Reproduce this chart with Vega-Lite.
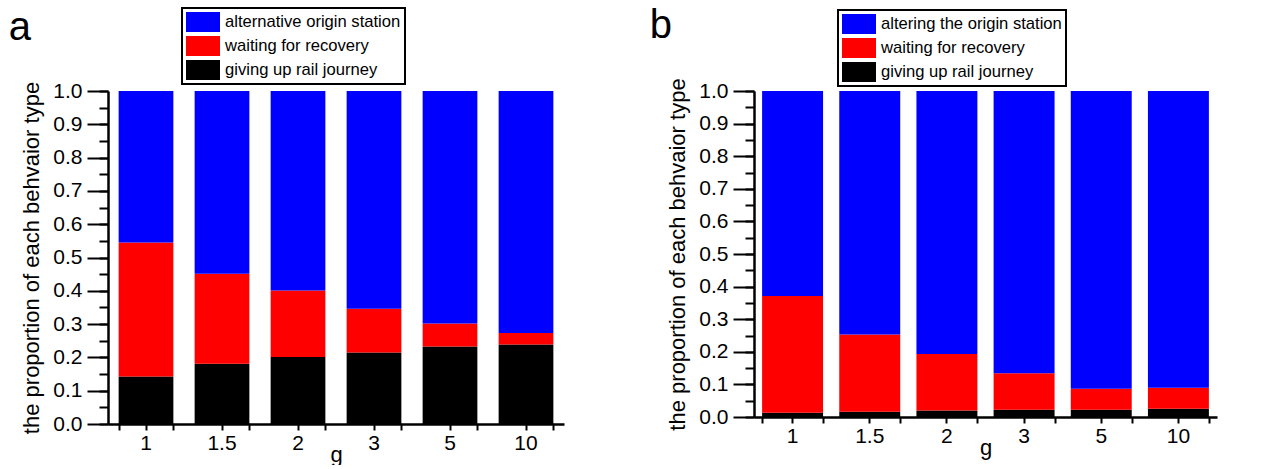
{
  "$schema": "https://vega.github.io/schema/vega-lite/v6.json",
  "padding": {"left": 8, "top": 6, "right": 5, "bottom": 0},
  "config": {
    "view": {"stroke": null},
    "font": "Liberation Sans",
    "axis": {"domainColor": "black", "tickColor": "black", "labelColor": "black", "titleColor": "black", "grid": false, "labelFont": "Liberation Sans", "titleFont": "Liberation Sans"},
    "legend": {"strokeColor": "black", "strokeWidth": 2, "padding": 4, "labelFont": "Liberation Sans", "labelFontSize": 16.6, "labelColor": "black", "labelLimit": 400},
    "title": {"font": "Liberation Sans", "color": "black"}
  },
  "datasets": {
    "a": [
      {"g": 1, "behavior": "giving up rail journey", "share": 0.143},
      {"g": 1, "behavior": "waiting for recovery", "share": 0.402},
      {"g": 1, "behavior": "alternative origin station", "share": 0.455},
      {"g": 1.5, "behavior": "giving up rail journey", "share": 0.181},
      {"g": 1.5, "behavior": "waiting for recovery", "share": 0.270},
      {"g": 1.5, "behavior": "alternative origin station", "share": 0.549},
      {"g": 2, "behavior": "giving up rail journey", "share": 0.201},
      {"g": 2, "behavior": "waiting for recovery", "share": 0.200},
      {"g": 2, "behavior": "alternative origin station", "share": 0.599},
      {"g": 3, "behavior": "giving up rail journey", "share": 0.215},
      {"g": 3, "behavior": "waiting for recovery", "share": 0.131},
      {"g": 3, "behavior": "alternative origin station", "share": 0.654},
      {"g": 5, "behavior": "giving up rail journey", "share": 0.233},
      {"g": 5, "behavior": "waiting for recovery", "share": 0.069},
      {"g": 5, "behavior": "alternative origin station", "share": 0.698},
      {"g": 10, "behavior": "giving up rail journey", "share": 0.239},
      {"g": 10, "behavior": "waiting for recovery", "share": 0.034},
      {"g": 10, "behavior": "alternative origin station", "share": 0.727}
    ],
    "b": [
      {"g": 1, "behavior": "giving up rail journey", "share": 0.013},
      {"g": 1, "behavior": "waiting for recovery", "share": 0.358},
      {"g": 1, "behavior": "altering the origin station", "share": 0.629},
      {"g": 1.5, "behavior": "giving up rail journey", "share": 0.016},
      {"g": 1.5, "behavior": "waiting for recovery", "share": 0.237},
      {"g": 1.5, "behavior": "altering the origin station", "share": 0.747},
      {"g": 2, "behavior": "giving up rail journey", "share": 0.020},
      {"g": 2, "behavior": "waiting for recovery", "share": 0.173},
      {"g": 2, "behavior": "altering the origin station", "share": 0.807},
      {"g": 3, "behavior": "giving up rail journey", "share": 0.022},
      {"g": 3, "behavior": "waiting for recovery", "share": 0.112},
      {"g": 3, "behavior": "altering the origin station", "share": 0.866},
      {"g": 5, "behavior": "giving up rail journey", "share": 0.022},
      {"g": 5, "behavior": "waiting for recovery", "share": 0.065},
      {"g": 5, "behavior": "altering the origin station", "share": 0.913},
      {"g": 10, "behavior": "giving up rail journey", "share": 0.025},
      {"g": 10, "behavior": "waiting for recovery", "share": 0.065},
      {"g": 10, "behavior": "altering the origin station", "share": 0.910}
    ]
  },
  "resolve": {"scale": {"color": "independent"}},
  "spacing": 85,
  "hconcat": [
    {
      "width": 456,
      "height": 333,
      "data": {"name": "a"},
      "title": {"text": "a", "anchor": "start", "frame": "bounds", "fontSize": 40, "fontWeight": "normal", "offset": -41, "dx": -12},
      "transform": [{"calculate": "indexof(['giving up rail journey','waiting for recovery','alternative origin station'], datum.behavior)", "as": "stackOrder"}],
      "layer": [
        {
          "mark": {"type": "bar"},
          "encoding": {
            "x": {"field": "g", "type": "ordinal", "scale": {"paddingInner": 0.28, "paddingOuter": 0.14},
              "axis": {"orient": "bottom", "labelAngle": 0, "tickSize": 6, "tickWidth": 2, "labelFontSize": 21, "labelPadding": 2, "title": "g", "titleFontSize": 22, "titleFontWeight": "normal", "titlePadding": -9, "domainWidth": 2.5}},
            "y": {"field": "share", "type": "quantitative", "stack": "zero", "scale": {"domain": [0, 1], "nice": false},
              "axis": {"orient": "left", "values": [0, 0.1, 0.2, 0.3, 0.4, 0.5, 0.6, 0.7, 0.8, 0.9, 1.0], "format": ".1f", "tickSize": 21, "tickWidth": 2, "labelFontSize": 21, "labelPadding": 5, "title": "the proportion of each behvaior type", "titleFontSize": 22, "titleFontWeight": "normal", "titlePadding": 9, "domainWidth": 2.5}},
            "color": {"field": "behavior", "type": "nominal",
              "scale": {"domain": ["alternative origin station", "waiting for recovery", "giving up rail journey"], "range": ["#0000ff", "#ff0000", "#000000"]},
              "legend": {"orient": "none", "legendX": 74, "legendY": -83, "title": null, "symbolType": "M-1,-0.6H1V0.6H-1Z", "symbolSize": 1156, "symbolStrokeWidth": 0, "symbolOpacity": 1, "clipHeight": 20, "rowPadding": 4, "labelOffset": 5}},
            "order": {"field": "stackOrder", "type": "quantitative"}
          }
        },
        {
          "mark": {"type": "bar", "opacity": 0},
          "encoding": {
            "x": {"field": "g", "type": "ordinal",
              "axis": {"orient": "bottom", "tickBand": "extent", "labels": false, "title": null, "domain": false, "tickSize": 6, "tickWidth": 2}},
            "y": {"field": "share", "type": "quantitative", "stack": "zero",
              "axis": {"orient": "left", "values": [0, 0.05, 0.1, 0.15, 0.2, 0.25, 0.3, 0.35, 0.4, 0.45, 0.5, 0.55, 0.6, 0.65, 0.7, 0.75, 0.8, 0.85, 0.9, 0.95, 1.0], "labels": false, "title": null, "domain": false, "tickSize": 9, "tickWidth": 2}}
          }
        }
      ],
      "resolve": {"axis": {"x": "independent", "y": "independent"}}
    },
    {
      "width": 463,
      "height": 326,
      "data": {"name": "b"},
      "title": {"text": "b", "anchor": "start", "frame": "bounds", "fontSize": 40, "fontWeight": "normal", "offset": -37, "dx": -17},
      "transform": [{"calculate": "indexof(['giving up rail journey','waiting for recovery','altering the origin station'], datum.behavior)", "as": "stackOrder"}],
      "layer": [
        {
          "mark": {"type": "bar"},
          "encoding": {
            "x": {"field": "g", "type": "ordinal", "scale": {"paddingInner": 0.21, "paddingOuter": 0.105},
              "axis": {"orient": "bottom", "labelAngle": 0, "tickSize": 6, "tickWidth": 2, "labelFontSize": 21, "labelPadding": 2, "title": "g", "titleFontSize": 22, "titleFontWeight": "normal", "titlePadding": -9, "domainWidth": 2.5}},
            "y": {"field": "share", "type": "quantitative", "stack": "zero", "scale": {"domain": [0, 1], "nice": false},
              "axis": {"orient": "left", "values": [0, 0.1, 0.2, 0.3, 0.4, 0.5, 0.6, 0.7, 0.8, 0.9, 1.0], "format": ".1f", "tickSize": 21, "tickWidth": 2, "labelFontSize": 21, "labelPadding": 5, "title": "the proportion of each behvaior type", "titleFontSize": 22, "titleFontWeight": "normal", "titlePadding": 9, "domainWidth": 2.5}},
            "color": {"field": "behavior", "type": "nominal",
              "scale": {"domain": ["altering the origin station", "waiting for recovery", "giving up rail journey"], "range": ["#0000ff", "#ff0000", "#000000"]},
              "legend": {"orient": "none", "legendX": 84, "legendY": -81, "title": null, "symbolType": "M-1,-0.6H1V0.6H-1Z", "symbolSize": 1156, "symbolStrokeWidth": 0, "symbolOpacity": 1, "clipHeight": 20, "rowPadding": 4, "labelOffset": 5}},
            "order": {"field": "stackOrder", "type": "quantitative"}
          }
        },
        {
          "mark": {"type": "bar", "opacity": 0},
          "encoding": {
            "x": {"field": "g", "type": "ordinal",
              "axis": {"orient": "bottom", "tickBand": "extent", "labels": false, "title": null, "domain": false, "tickSize": 6, "tickWidth": 2}},
            "y": {"field": "share", "type": "quantitative", "stack": "zero",
              "axis": {"orient": "left", "values": [0, 0.05, 0.1, 0.15, 0.2, 0.25, 0.3, 0.35, 0.4, 0.45, 0.5, 0.55, 0.6, 0.65, 0.7, 0.75, 0.8, 0.85, 0.9, 0.95, 1.0], "labels": false, "title": null, "domain": false, "tickSize": 9, "tickWidth": 2}}
          }
        }
      ],
      "resolve": {"axis": {"x": "independent", "y": "independent"}}
    }
  ]
}
